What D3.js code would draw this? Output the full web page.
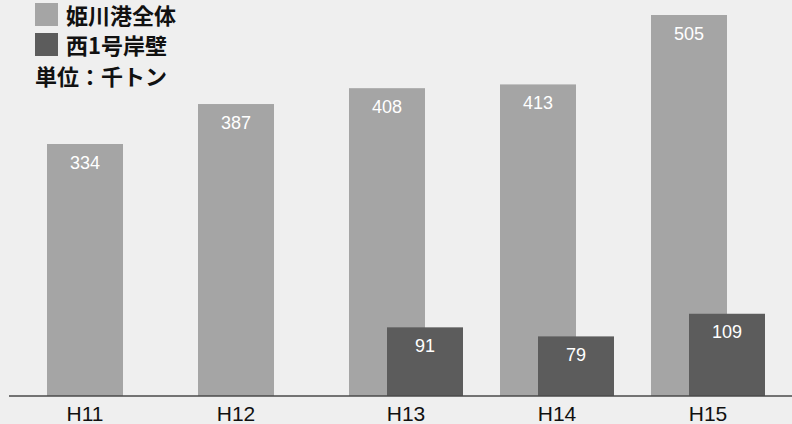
<!DOCTYPE html>
<html>
<head>
<meta charset="utf-8">
<script src="https://cdn.jsdelivr.net/npm/d3@7/dist/d3.min.js"></script>
<style>
  html, body { margin: 0; padding: 0; background: #efefef; }
  svg { display: block; }
</style>
</head>
<body>
<svg id="chart" width="792" height="424"></svg>
<script>
// data (千トン)
var years = ["H11", "H12", "H13", "H14", "H15"];
var himekawaTotal = [334, 387, 408, 413, 505];
var nishi1 = [null, null, 91, 79, 109];
var seriesNames = ["姫川港全体", "西1号岸壁"];
var unitLabel = "単位：千トン";

var colors = ["#a5a5a5", "#5c5c5c"];

var svg = d3.select("#chart");
var width = 792, height = 424;
var baseY = 396;
var barW = 76, shift = 38;

// one band per year; light bar at the left of the pair, dark bar shifted by half a bar
var x = d3.scaleBand().domain(years).range([28.5, 28.5 + 151 * 5]).padding(0);
var y = d3.scaleLinear().domain([0, 505]).range([baseY, 15]);

function pairLeft(d) { return x(d) + x.bandwidth() / 2 - (barW + shift) / 2; }

var rows = years.map(function(d, i) {
  return { year: d, a: himekawaTotal[i], b: nishi1[i] };
});
var rowsB = rows.filter(function(d) { return d.b != null; });

var g = svg.append("g");

g.selectAll("rect.a").data(rows).enter().append("rect")
  .attr("class", "a")
  .attr("x", function(d) { return pairLeft(d.year); })
  .attr("y", function(d) { return y(d.a); })
  .attr("width", barW)
  .attr("height", function(d) { return baseY - y(d.a); })
  .attr("fill", colors[0]);

g.selectAll("rect.b").data(rowsB).enter().append("rect")
  .attr("class", "b")
  .attr("x", function(d) { return pairLeft(d.year) + shift; })
  .attr("y", function(d) { return y(d.b); })
  .attr("width", barW)
  .attr("height", function(d) { return baseY - y(d.b); })
  .attr("fill", colors[1]);

// value labels
g.selectAll("text.va").data(rows).enter().append("text")
  .attr("x", function(d) { return pairLeft(d.year) + barW / 2; })
  .attr("y", function(d) { return y(d.a) + 24.5; })
  .attr("text-anchor", "middle")
  .attr("font-family", "Liberation Sans, Arial, sans-serif")
  .attr("font-size", 18)
  .attr("fill", "#ffffff")
  .text(function(d) { return d.a; });

g.selectAll("text.vb").data(rowsB).enter().append("text")
  .attr("x", function(d) { return pairLeft(d.year) + shift + barW / 2; })
  .attr("y", function(d) { return y(d.b) + 24.5; })
  .attr("text-anchor", "middle")
  .attr("font-family", "Liberation Sans, Arial, sans-serif")
  .attr("font-size", 18)
  .attr("fill", "#ffffff")
  .text(function(d) { return d.b; });

// baseline
svg.append("line")
  .attr("x1", 9).attr("x2", width)
  .attr("y1", baseY).attr("y2", baseY)
  .attr("stroke", "#4a4a4a")
  .attr("stroke-width", 1.5);

// category labels, centred on the bars that exist
svg.selectAll("text.cat").data(rows).enter().append("text")
  .attr("x", function(d) {
    var left = pairLeft(d.year);
    return d.b != null ? left + (barW + shift) / 2 : left + barW / 2;
  })
  .attr("y", 421)
  .attr("text-anchor", "middle")
  .attr("font-family", "Liberation Sans, Arial, sans-serif")
  .attr("font-size", 21)
  .attr("fill", "#111")
  .text(function(d) { return d.year; });

// legend
var legend = svg.append("g");
seriesNames.forEach(function(name, i) {
  legend.append("rect")
    .attr("x", 35).attr("y", 3 + i * 30)
    .attr("width", 23).attr("height", 23)
    .attr("fill", colors[i]);
  legend.append("text")
    .attr("x", 66).attr("y", 24 + i * 30)
    .attr("font-family", "Noto Sans CJK JP, sans-serif")
    .attr("font-weight", "bold")
    .attr("font-size", 22)
    .attr("fill", "#111")
    .text(name);
});
legend.append("text")
  .attr("x", 35).attr("y", 85)
  .attr("font-family", "Noto Sans CJK JP, sans-serif")
  .attr("font-weight", "bold")
  .attr("font-size", 22)
  .attr("fill", "#111")
  .text(unitLabel);
</script>
</body>
</html>
